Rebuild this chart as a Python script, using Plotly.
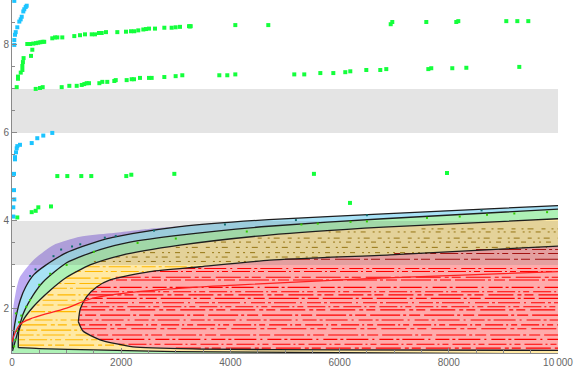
import plotly.graph_objects as go

# ---------------- data ----------------
X_END = 10000
band_lo = [3, 6]
band_hi = [4, 7]

purple_x = [0, 10, 25, 80, 146, 390, 755, 1245, 1795, 2500, 3077, 4700, 6800, 10000]
purple_y = [1.3, 1.8, 2.05, 2.45, 2.73, 3.11, 3.45, 3.64, 3.72, 3.82, 3.88, 4.03, 4.16, 4.35]

c1_x = [5, 50, 150, 250, 400, 600, 1000, 1600, 2200, 3077, 4700, 6800, 10000]
c1_y = [1.1, 1.65, 2.2, 2.5, 2.78, 2.98, 3.28, 3.55, 3.71, 3.87, 4.03, 4.16, 4.35]

c2_x = [10, 115, 207, 390, 573, 1000, 1612, 2161, 3077, 4700, 6800, 10000]
c2_y = [1.05, 1.52, 1.90, 2.32, 2.62, 3.05, 3.35, 3.52, 3.68, 3.88, 4.05, 4.27]

c3_x = [115, 125, 207, 390, 696, 1000, 1429, 2000, 3077, 4700, 6800, 10000]
c3_y = [1.12, 1.5, 1.75, 2.05, 2.42, 2.72, 3.0, 3.22, 3.45, 3.68, 3.86, 4.05]

yel_low_x = [115, 500, 1500, 3000, 10000]
yel_low_y = [1.12, 1.1, 1.07, 1.03, 0.98]

red_up_x = [1215, 1250, 1367, 1550, 1795, 2527, 3443, 4725, 6923, 10000]
red_up_y = [1.71, 2.0, 2.28, 2.5, 2.66, 2.85, 2.96, 3.11, 3.23, 3.43]
red_lo_x = [1215, 1300, 1612, 2216, 3443, 6000, 10000]
red_lo_y = [1.71, 1.5, 1.30, 1.14, 1.09, 1.07, 1.06]

redline_x = [0, 55, 146, 390, 1000, 1490, 2216, 3443, 4176, 6740, 10000]
redline_y = [1.25, 1.45, 1.65, 1.8, 2.02, 2.25, 2.38, 2.5, 2.55, 2.7, 2.85]

# dotted rows inside regions
red_row_y = [2.92, 2.85, 2.72, 2.66, 2.49, 2.39, 2.32, 2.24, 2.14, 2.05, 1.98,
             1.86, 1.75, 1.64, 1.55, 1.41, 1.31, 1.20, 1.11]
red_row_x0 = [3100, 2527, 1900, 1795, 1550, 1450, 1400, 1350, 1300, 1270, 1250,
              1230, 1220, 1230, 1270, 1450, 1600, 1950, 3000]
dred_row_y = [3.35, 3.26, 3.13]
dred_row_x0 = [8500, 7000, 5000]

org_row_y = [2.96, 2.85, 2.70, 2.58, 2.47, 2.32, 2.20, 2.09, 1.94, 1.75, 1.64,
             1.52, 1.41, 1.30, 1.18]
org_row_x0 = [1350, 1150, 980, 850, 750, 650, 560, 450, 350, 230, 180, 150, 140, 130, 130]
org_row_x1 = [3443, 2527, 1850, 1650, 1530, 1400, 1330, 1270, 1240, 1215, 1220,
              1270, 1450, 1612, 2100]

olv_row_y = [3.08, 3.18, 3.28, 3.40, 3.52, 3.61, 3.75, 3.82]
olv_row_x0 = [1500, 1900, 2400, 3000, 3700, 4500, 5800, 7500]
olv_row_x1 = [4300, 6000, 7800, 9800, 10000, 10000, 10000, 10000]

# scattered specks
teal_x = [900, 1100, 1250, 1700, 2600, 3900, 5200, 6500, 8600, 430, 330, 760, 1900]
teal_y = [3.35, 3.42, 3.47, 3.62, 3.78, 3.92, 4.02, 4.13, 4.24, 2.9, 2.75, 3.2, 3.66]
lime_x = [500, 700, 1000, 1500, 2300, 3000, 4300, 5300, 5600, 6200, 6500, 7600, 8200, 8700,
          9200, 9800, 60, 90, 130, 170, 260, 330, 40, 70]
lime_y = [2.55, 2.8, 3.0, 3.3, 3.5, 3.6, 3.76, 3.92, 3.94, 3.98, 3.99, 4.07, 4.1, 4.14,
          4.17, 4.2, 1.3, 1.5, 1.7, 1.85, 2.05, 2.2, 1.15, 1.9]

# green squares
green_x = [86, 110, 110, 160, 190, 190, 200, 212, 280, 330, 348, 372, 390, 440, 480, 520, 560, 590,
           738, 788, 830, 921, 1141, 1245, 1337, 1460, 1520, 1593, 1643, 1722, 1929, 2088, 2180,
           2240, 2313, 2405, 2454, 2509, 2619, 2790, 2924, 2997, 3077, 3260, 3242, 3273, 4090,
           4694, 6936, 6965, 7588, 8137, 8174, 9053, 9255, 9456,
           434, 513, 562, 910, 1050, 1185, 1277, 1325, 1368, 1410, 1600, 1654, 1745, 1874, 1900,
           2100, 2192, 2234, 2344, 2509, 2558, 2790, 2997, 3119, 3797, 3943, 4090, 5170, 5353,
           5647, 5885, 6104, 6196, 6489, 6745, 6855, 7625, 7679, 8064, 8321, 9291,
           97, 361, 434, 482, 714, 830, 1013, 1269, 1452, 2093, 2185, 2973, 5530, 7967, 6190]
green_y = [7.04, 7.23, 7.28, 7.37, 7.43, 7.52, 7.61, 7.70, 8.02, 8.02, 7.75, 7.89, 8.03, 8.04,
           8.05, 8.06, 8.07, 8.07, 8.15, 8.17, 8.17, 8.17, 8.20, 8.22, 8.24, 8.24, 8.24, 8.27,
           8.27, 8.29, 8.29, 8.30, 8.31, 8.31, 8.33, 8.35, 8.36, 8.37, 8.37, 8.39, 8.39, 8.40,
           8.41, 8.42, 8.425, 8.425, 8.45, 8.45, 8.47, 8.52, 8.52, 8.52, 8.54, 8.54, 8.54, 8.54,
           7.0, 7.02, 7.04, 7.04, 7.07, 7.07, 7.09, 7.11, 7.13, 7.13, 7.13, 7.16, 7.16, 7.18,
           7.2, 7.2, 7.22, 7.22, 7.25, 7.25, 7.25, 7.27, 7.29, 7.31, 7.31, 7.31, 7.33, 7.33,
           7.33, 7.36, 7.36, 7.38, 7.40, 7.43, 7.43, 7.45, 7.45, 7.47, 7.47, 7.48, 7.5,
           4.08, 4.20, 4.23, 4.31, 4.33, 5.02, 5.02, 5.02, 5.02, 5.02, 5.05, 5.07, 5.07, 5.09, 4.41]

cyan_x = [42, 269, 251, 225, 207, 178, 159, 134, 97, 68, 55, 42, 42,
          738, 573, 463, 361, 146, 97, 86, 73, 55, 55, 37, 37, 42, 24, 24]
cyan_y = [9.0, 8.89, 8.86, 8.81, 8.76, 8.64, 8.58, 8.53, 8.40, 8.29, 8.23, 8.11, 8.0,
          6.0, 5.94, 5.88, 5.77, 5.73, 5.70, 5.65, 5.56, 5.45, 5.40, 5.07, 4.70, 4.49, 4.31, 4.10]

x_tick_vals = [0, 2000, 4000, 6000, 8000, 10000]
x_tick_text = ["0", "2000", "4000", "6000", "8000", "10\u2009000"]
y_tick_vals = [2, 4, 6, 8]

# ---------------- figure ----------------
fig = go.Figure()
SPL = dict(shape="spline", smoothing=0.6)

def upper_region(xs, ys, color):
    fig.add_trace(go.Scatter(x=xs, y=ys, mode="lines", fill="tozeroy", fillcolor=color,
                             line=dict(width=0, **SPL), hoverinfo="skip", showlegend=False))

def closed_region(lx, ly, ux, uy, color):
    fig.add_trace(go.Scatter(x=lx, y=ly, mode="lines", line=dict(width=0, **SPL),
                             hoverinfo="skip", showlegend=False))
    fig.add_trace(go.Scatter(x=ux, y=uy, mode="lines", fill="tonexty", fillcolor=color,
                             line=dict(width=0, **SPL), hoverinfo="skip", showlegend=False))

upper_region(purple_x, purple_y, "#bdaaf2")
upper_region(c1_x, c1_y, "#a8e2f6")
upper_region(c2_x, c2_y, "#aef1b6")
closed_region(yel_low_x, yel_low_y, c3_x, c3_y, "#ffe9a4")
closed_region(red_lo_x, red_lo_y, red_up_x, red_up_y, "#ffabab")

# dotted rows
dash_styles = ["14px,3px,3px,3px,22px,4px,2px,5px", "6px,4px,18px,3px,2px,3px",
               "25px,4px,4px,3px,9px,5px", "3px,3px,11px,4px,30px,3px"]
olive_dash = ["2px,5px,5px,7px,2px,4px", "4px,6px,2px,4px,6px,8px"]

def rows(ys, x0s, x1s, color, width, styles):
    for i, (yy, a, b) in enumerate(zip(ys, x0s, x1s)):
        fig.add_trace(go.Scatter(x=[a, b], y=[yy, yy], mode="lines",
                                 line=dict(color=color, width=width, dash=styles[i % len(styles)]),
                                 hoverinfo="skip", showlegend=False))

rows(red_row_y, red_row_x0, [X_END] * len(red_row_y), "#ff0000", 1.1, dash_styles)
rows(dred_row_y, dred_row_x0, [X_END] * len(dred_row_y), "#b00000", 1.1, dash_styles)
rows(org_row_y, org_row_x0, org_row_x1, "#ffb800", 1.1, dash_styles)
rows(olv_row_y, olv_row_x0, olv_row_x1, "#a07800", 1.0, olive_dash)

# gray bands (translucent, above fills)
for lo, hi in zip(band_lo, band_hi):
    fig.add_trace(go.Scatter(x=[0, X_END, X_END, 0, 0], y=[lo, lo, hi, hi, lo], mode="lines",
                             fill="toself", fillcolor="rgba(105,105,105,0.18)",
                             line=dict(width=0), hoverinfo="skip", showlegend=False))

# boundary curves
def curve(xs, ys):
    fig.add_trace(go.Scatter(x=xs, y=ys, mode="lines",
                             line=dict(color="#1e1e1e", width=1.3, **SPL),
                             hoverinfo="skip", showlegend=False))

curve(c1_x, c1_y)
curve(c2_x, c2_y)
curve(c3_x, c3_y)
curve(yel_low_x, yel_low_y)
curve(red_up_x, red_up_y)
curve(red_lo_x, red_lo_y)

# specks
fig.add_trace(go.Scatter(x=teal_x, y=teal_y, mode="markers",
                         marker=dict(color="#107070", size=2, symbol="square"),
                         hoverinfo="skip", showlegend=False))
fig.add_trace(go.Scatter(x=lime_x, y=lime_y, mode="markers",
                         marker=dict(color="#33cc00", size=2, symbol="square"),
                         hoverinfo="skip", showlegend=False))

# red curve
fig.add_trace(go.Scatter(x=redline_x, y=redline_y, mode="lines",
                         line=dict(color="#ff2020", width=1.2, shape="spline"),
                         hoverinfo="skip", showlegend=False))

# markers
fig.add_trace(go.Scatter(x=green_x, y=green_y, mode="markers",
                         marker=dict(color="#14ff3c", size=4, symbol="square", line=dict(width=0)),
                         hoverinfo="skip", showlegend=False))
fig.add_trace(go.Scatter(x=cyan_x, y=cyan_y, mode="markers",
                         marker=dict(color="#1cc4ff", size=4, symbol="square", line=dict(width=0)),
                         hoverinfo="skip", showlegend=False))

axis_common = dict(showgrid=False, zeroline=False, showline=True, linecolor="#8a8a8a",
                   linewidth=1, ticks="inside", tickcolor="#8a8a8a", ticklen=5,
                   tickfont=dict(family="Liberation Sans", size=10, color="#666666"))
fig.update_layout(
    width=576, height=370,
    margin=dict(l=12, r=18, t=0, b=17, autoexpand=False),
    paper_bgcolor="white", plot_bgcolor="white",
    xaxis=dict(range=[0, X_END], tickvals=x_tick_vals, ticktext=x_tick_text,
               minor=dict(ticks="inside", ticklen=3, dtick=500, tickcolor="#8a8a8a"),
               **axis_common),
    yaxis=dict(range=[1.0, 9.02], tickvals=y_tick_vals,
               minor=dict(ticks="inside", ticklen=3, dtick=0.5, tickcolor="#8a8a8a"),
               **axis_common),
)
fig.write_html("out.html")
